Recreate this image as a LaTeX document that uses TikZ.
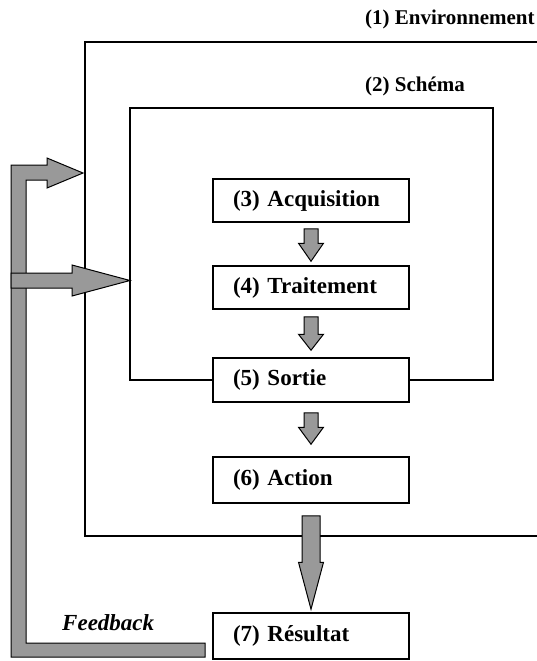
\documentclass[tikz,border=0pt]{standalone}
\usepackage{fontspec}
\setmainfont{Liberation Serif}
\usetikzlibrary{calc}
\newcommand\blockdown[6]{%
  \filldraw[arrowblk] let \p1=(#1.south), \p2=(#2.north) in
    (\x1-#6,\y1-#3) -- (\x1+#6,\y1-#3) -- (\x1+#6,\y2+#4+#5) -- (\x1+12.5pt,\y2+#4+#5)
    -- (\x1,\y2+#4) -- (\x1-12.5pt,\y2+#4+#5) -- (\x1-#6,\y2+#4+#5) -- cycle;}
\begin{document}
\begin{tikzpicture}[x=1pt,y=-1pt,
  stagebox/.style={draw, line width=1.5pt, minimum width=196pt, minimum height=43pt,
    inner xsep=20pt, inner ysep=0pt, text width=156pt, align=left,
    font=\fontsize{23}{26}\selectfont\bfseries},
  toplabel/.style={anchor=west, inner sep=0pt, font=\fontsize{21}{24}\selectfont\bfseries},
  arrowblk/.style={draw=black, line width=1pt, fill=black!40, line join=miter}]
\useasboundingbox (0,0) rectangle (537,661);

% stage boxes
\node[stagebox] (acq) at (311,200.5) {(3) Acquisition};
\node[stagebox] (trt) at (311,287.5) {(4) Traitement};
\node[stagebox, minimum height=44pt] (sor) at (311,380) {(5) Sortie};
\node[stagebox, minimum height=46pt] (act) at (311,480) {(6) Action};
\node[stagebox, minimum height=46pt] (res) at (311,636) {(7) R\'esultat};

% labels
\node[toplabel] (env) at (365,19) {(1) Environnement};
\node[toplabel] (sch) at (365,86) {(2) Sch\'ema};
\node[anchor=west, inner sep=0pt, font=\fontsize{23}{26}\selectfont\bfseries\itshape] (fb) at (62,623) {Feedback};

% environment box (open to the right)
\draw[line width=1.6pt] (545,42) -- (85,42) -- (85,536) -- (545,536);
% schema box
\draw[line width=1.1pt] (sor.west) -| (130,108) -- (493,108) |- (sor.east);

% flow arrows
\blockdown{acq}{trt}{6pt}{4pt}{18pt}{7pt}
\blockdown{trt}{sor}{7pt}{7pt}{16pt}{7pt}
\blockdown{sor}{act}{10pt}{12pt}{17pt}{7pt}
\blockdown{act}{res}{12pt}{3pt}{47pt}{9pt}

% feedback arrows
\filldraw[arrowblk] (11,657) -- (11,165) -- (47,165) -- (47,158) -- (83,173) -- (47,188)
  -- (47,180) -- (26,180) -- (26,643) -- (205,643) -- (205,657) -- cycle;
\filldraw[arrowblk] (11,273) -- (72,273) -- (72,265) -- (130,280.5) -- (72,296)
  -- (72,288) -- (11,288) -- cycle;
\end{tikzpicture}
\end{document}
